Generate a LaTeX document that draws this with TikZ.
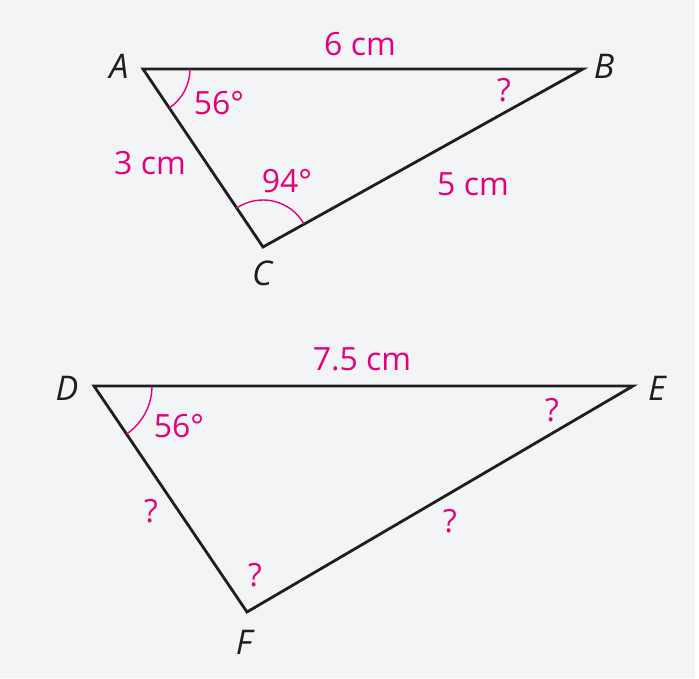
\documentclass[tikz,border=0pt]{standalone}
\usepackage{fontspec}
\setmainfont{Open Sans}
\usetikzlibrary{angles}
\definecolor{pinklbl}{RGB}{228,0,124}
\definecolor{bggray}{RGB}{243,244,246}
\definecolor{lineblk}{RGB}{30,30,30}

\begin{document}
\begin{tikzpicture}[x=1pt, y=-1pt,
    tri/.style={draw=lineblk, line width=2.8pt, line join=miter},
    vtx/.style={text=lineblk, font=\fontsize{34}{40}\selectfont\itshape, inner sep=0pt},
    lbl/.style={text=pinklbl, font=\fontsize{32}{38}\selectfont, inner sep=0pt},
    arcmark/.style={draw=pinklbl, line width=1.4pt}]

  % Page and background
  \useasboundingbox (0,0) rectangle (699,678);
  \fill[white] (0,0) rectangle (699,678);
  \fill[bggray] (0,0) rectangle (695,678);

  % Upper triangle ABC
  \coordinate (A) at (143,69);
  \coordinate (B) at (583,69);
  \coordinate (C) at (263,247);
  \draw[tri] (A) -- (B) -- (C) -- cycle;

  \pic[arcmark, angle radius=47pt] {angle = C--A--B};
  \pic[arcmark, angle radius=47pt] {angle = B--C--A};

  \node[vtx] (labA) at (119,66) {A};
  \node[vtx] (labB) at (604,66) {B};
  \node[vtx] (labC) at (262,273) {C};

  \node[lbl] (sideAB) at (360,44) {6 cm};
  \node[lbl] (sideAC) at (150,163) {3 cm};
  \node[lbl] (sideBC) at (473,184) {5 cm};
  \node[lbl] (angA) at (219,103) {56°};
  \node[lbl] (angC) at (287,181) {94°};
  \node[lbl] (angB) at (504,90) {?};

  % Lower triangle DEF
  \coordinate (D) at (94,386);
  \coordinate (E) at (633,386);
  \coordinate (F) at (247,612);
  \draw[tri] (D) -- (E) -- (F) -- cycle;

  \pic[arcmark, angle radius=58pt] {angle = F--D--E};

  \node[vtx] (labD) at (67,388) {D};
  \node[vtx] (labE) at (657,388) {E};
  \node[vtx] (labF) at (244,642) {F};

  \node[lbl] (sideDE) at (362,359) {7.5 cm};
  \node[lbl] (sideDF) at (151,511) {?};
  \node[lbl] (sideEF) at (450,521) {?};
  \node[lbl] (angD) at (179,426) {56°};
  \node[lbl] (angE) at (552,410) {?};
  \node[lbl] (angF) at (255,575) {?};
\end{tikzpicture}
\end{document}
